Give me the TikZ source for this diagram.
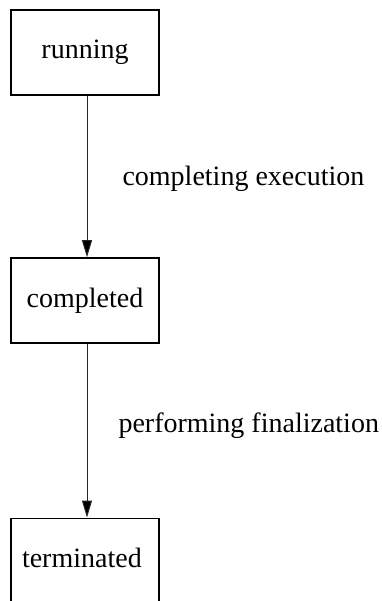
\documentclass[tikz,border=0pt]{standalone}
\usepackage{fontspec}
\setmainfont{Liberation Serif}
\usetikzlibrary{arrows.meta}
\begin{document}
\begin{tikzpicture}[x=1pt,y=1pt,
  statebox/.style={draw=black, line width=1.6pt, rectangle,
    minimum width=148pt, minimum height=85pt, inner sep=0pt,
    text height=19pt, text depth=6pt,
    font=\fontsize{28}{34}\selectfont},
  flow/.style={draw=black!85, line width=1pt,
    -{Triangle[length=17pt,width=10pt,fill=black]}},
  flowlabel/.style={font=\fontsize{28}{34}\selectfont, inner sep=0pt, anchor=base west}]
  \useasboundingbox (0,0) rectangle (381,-601);

  % states
  \node[statebox] (running)   at (85,-52.5)  {running};
  \node[statebox] (completed) at (85,-300.5) {completed};
  \node[statebox, text width=126pt, align=left, inner xsep=11pt]
                  (terminated) at (85,-560.8) {terminated};

  % transitions
  \draw[flow] ([xshift=2pt]running.south) -- ([xshift=2pt]completed.north)
    node[flowlabel, midway, xshift=35pt, yshift=-9.5pt] (lbl1) {completing execution};
  \draw[flow] ([xshift=2pt]completed.south) -- ([xshift=2pt]terminated.north)
    node[flowlabel, midway, xshift=31pt, yshift=-1.5pt] (lbl2) {performing finalization};
\end{tikzpicture}
\end{document}
